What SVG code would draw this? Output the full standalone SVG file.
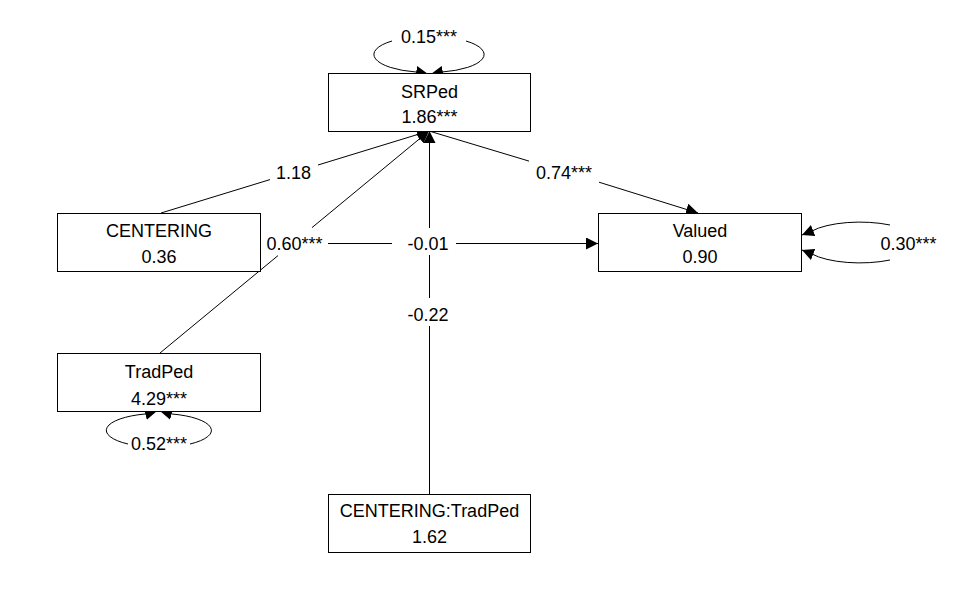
<svg xmlns="http://www.w3.org/2000/svg" width="962" height="594" viewBox="0 0 962 594">
  <defs>
    <marker id="arrow" markerUnits="userSpaceOnUse" markerWidth="12" markerHeight="12" refX="12" refY="6" orient="auto">
      <path d="M0,0 L12,6 L0,12 z" fill="#000"/>
    </marker>
    <style>
      .box { fill: #fff; stroke: #000; stroke-width: 1; }
      .edge { fill: none; stroke: #000; stroke-width: 1; }
      .arr { marker-end: url(#arrow); }
      text { font-family: "Liberation Sans", Arial, sans-serif; font-size: 18px; fill: #000; text-anchor: middle; }
    </style>
  </defs>
  <rect width="962" height="594" fill="#fff"/>

  <!-- paths and variances -->
  <g id="connectors">
    <!-- CENTERING -> SRPed -->
    <path class="edge" d="M161,213 L270,179.6"/>
    <path class="edge arr" d="M318,165 L429,131"/>
    <text x="293.5" y="179.3">1.18</text>
    <!-- TradPed -> SRPed -->
    <path class="edge" d="M160,353 L278,255.6"/>
    <path class="edge arr" d="M312,227.6 L429,131"/>
    <text x="294.5" y="250">0.60***</text>
    <!-- CENTERING:TradPed -> SRPed -->
    <path class="edge" d="M429.5,494 L429.5,326 M429.5,298 L429.5,255"/>
    <path class="edge arr" d="M429.5,228 L429.5,131"/>
    <text x="428" y="320.7">-0.22</text>
    <!-- CENTERING -> Valued -->
    <path class="edge" d="M328,243.5 L392,243.5"/>
    <path class="edge arr" d="M456,243.5 L598,243.5"/>
    <text x="428" y="250">-0.01</text>
    <!-- SRPed -> Valued -->
    <path class="edge" d="M429,131 L529,161.1"/>
    <path class="edge arr" d="M599,182.2 L698,213"/>
    <text x="564" y="179.3">0.74***</text>
    <!-- SRPed variance -->
    <path class="edge arr" d="M392,41 A54 18 0 0 0 416,72 L428,74"/>
    <path class="edge arr" d="M466,41 A54 18 0 0 1 442,72 L431,74"/>
    <text x="429" y="42.7">0.15***</text>
    <!-- Valued variance -->
    <path class="edge arr" d="M890,225 A56 18.5 0 0 0 812,231 L802,235"/>
    <path class="edge arr" d="M890,260 A56 18.5 0 0 1 812,254 L802,250"/>
    <text x="908.5" y="250">0.30***</text>
    <!-- TradPed variance -->
    <path class="edge arr" d="M128,444 A53.5 17 0 0 1 145,414 L157,411"/>
    <path class="edge arr" d="M190,444 A53.5 17 0 0 0 172,414 L160,411"/>
    <text x="159" y="450">0.52***</text>
  </g>

  <g id="SRPed">
    <rect class="box" x="328.5" y="73.5" width="202" height="58"/>
    <text x="429.5" y="97.5">SRPed</text>
    <text x="429.5" y="123">1.86***</text>
  </g>
  <g id="CENTERING">
    <rect class="box" x="57.5" y="213.5" width="203" height="58"/>
    <text x="159" y="237.3">CENTERING</text>
    <text x="159" y="263">0.36</text>
  </g>
  <g id="Valued">
    <rect class="box" x="598.5" y="213.5" width="203" height="58"/>
    <text x="700" y="236.7">Valued</text>
    <text x="700" y="263">0.90</text>
  </g>
  <g id="TradPed">
    <rect class="box" x="57.5" y="353.5" width="203" height="58"/>
    <text x="159" y="377.7">TradPed</text>
    <text x="159" y="405">4.29***</text>
  </g>
  <g id="CENTERING_TradPed">
    <rect class="box" x="328.5" y="494.5" width="202" height="58"/>
    <text x="429.5" y="517.3">CENTERING:TradPed</text>
    <text x="429.5" y="543">1.62</text>
  </g>
</svg>
